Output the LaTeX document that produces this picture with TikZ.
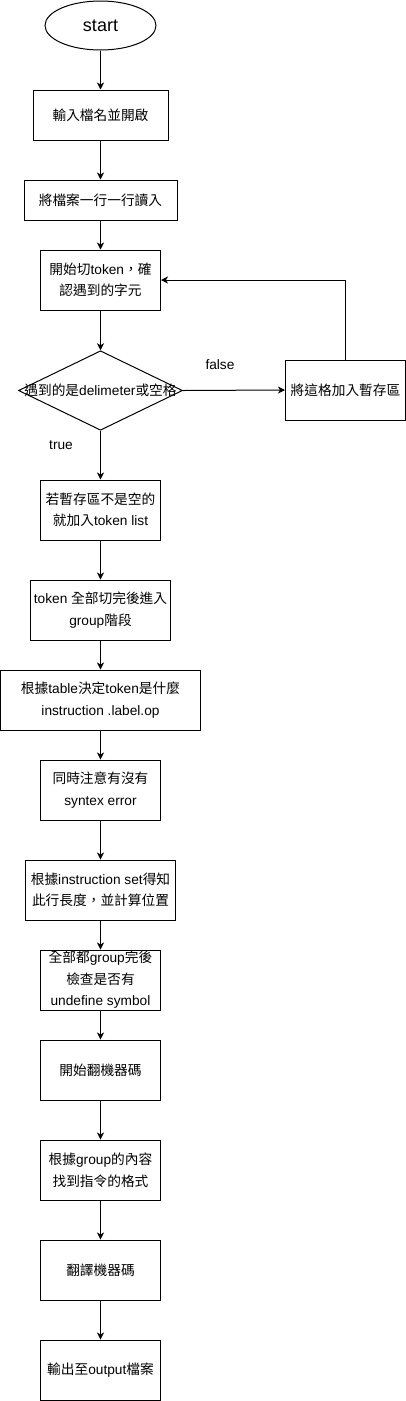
\documentclass[tikz,border=0pt]{standalone}
\usepackage{fontspec}
\setmainfont{Liberation Sans}
\newfontfamily\cjkfont{Noto Sans CJK TC}
\usetikzlibrary{shapes.geometric,arrows.meta}
\newcommand\zh[1]{{\cjkfont #1}}
\begin{document}
\begin{tikzpicture}[x=1pt,y=-1pt,
  font=\fontsize{13.7}{21.5}\selectfont,
  line width=1pt,
  box/.style={draw, rectangle, minimum width=120pt, minimum height=60pt, inner sep=0pt, align=center},
  arr/.style={-{Stealth[length=7pt,width=7pt,inset=2pt]}},
  lbl/.style={inner sep=0pt}]
\useasboundingbox (0,0) rectangle (406,1401);
\node[draw, ellipse, minimum width=111pt, minimum height=49pt, inner sep=0pt, font=\fontsize{18}{20}\selectfont] (s) at (100.5,25.5) {start};
\node[box, minimum width=135pt, minimum height=50pt] (b1) at (100.5,115) {\zh{輸入檔名並開啟}};
\node[box, minimum width=153pt, minimum height=40pt] (b2) at (100.5,200) {\zh{將檔案一行一行讀入}};
\node[box] (b3) at (100.5,280) {\zh{開始切}token\zh{，確}\\\zh{認遇到的字元}};
\node[draw, diamond, minimum width=164pt, minimum height=79.5pt, inner sep=0pt,
  label={[lbl]center:\zh{遇到的是}delimeter\zh{或空格}}] (d) at (100.5,390.5) {};
\node[box] (r) at (345.5,390) {\zh{將這格加入暫存區}};
\node[box] (b4) at (100.5,510) {\zh{若暫存區不是空的}\\\zh{就加入}token list};
\node[box, minimum width=140pt] (b5) at (100.5,610) {token \zh{全部切完後進入}\\group\zh{階段}};
\node[box, minimum width=200pt] (b6) at (100.5,700) {\zh{根據}table\zh{決定}token\zh{是什麼}\\instruction .label.op};
\node[box] (b7) at (100.5,790) {\zh{同時注意有沒有}\\syntex error};
\node[box, minimum width=150pt] (b8) at (100.5,890) {\zh{根據}instruction set\zh{得知}\\\zh{此行長度，並計算位置}};
\node[box] (b9) at (100.5,980) {\zh{全部都}group\zh{完後}\\\zh{檢查是否有}\\undefine symbol};
\node[box] (b10) at (100.5,1070) {\zh{開始翻機器碼}};
\node[box] (b11) at (100.5,1170) {\zh{根據}group\zh{的內容}\\\zh{找到指令的格式}};
\node[box] (b12) at (100.5,1270) {\zh{翻譯機器碼}};
\node[box] (b13) at (100.5,1370) {\zh{輸出至}output\zh{檔案}};
\node[lbl] (f) at (220,365) {false};
\node[lbl] (t) at (61,445) {true};
\draw[arr] (s) -- (b1);
\draw[arr] (b1) -- (b2);
\draw[arr] (b2) -- (b3);
\draw[arr] (b3) -- (d);
\draw[arr] (d.east) -- (r.west);
\draw[arr] (r.north) |- (b3.east);
\draw[arr] (d.south) -- (b4);
\draw[arr] (b4) -- (b5);
\draw[arr] (b5) -- (b6);
\draw[arr] (b6) -- (b7);
\draw[arr] (b7) -- (b8);
\draw[arr] (b8) -- (b9);
\draw[arr] (b9) -- (b10);
\draw[arr] (b10) -- (b11);
\draw[arr] (b11) -- (b12);
\draw[arr] (b12) -- (b13);
\end{tikzpicture}
\end{document}
